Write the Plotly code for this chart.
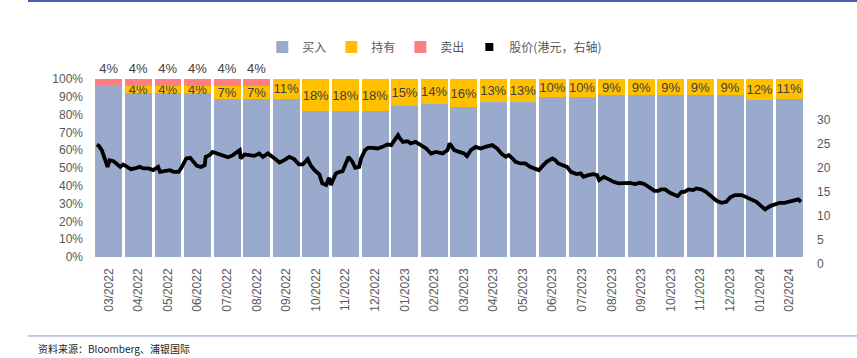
import plotly.graph_objects as go

months = ["03/2022", "04/2022", "05/2022", "06/2022", "07/2022", "08/2022", "09/2022", "10/2022",
          "11/2022", "12/2022", "01/2023", "02/2023", "03/2023", "04/2023", "05/2023", "06/2023",
          "07/2023", "08/2023", "09/2023", "10/2023", "11/2023", "12/2023", "01/2024", "02/2024"]
buy = [96, 92, 92, 92, 89, 89, 89, 82, 82, 82, 85, 86, 84, 87, 87, 90, 90, 91, 91, 91, 91, 91, 88, 89]
hold = [0, 4, 4, 4, 7, 7, 11, 18, 18, 18, 15, 14, 16, 13, 13, 10, 10, 9, 9, 9, 9, 9, 12, 11]
sell = [4, 4, 4, 4, 4, 4, 0, 0, 0, 0, 0, 0, 0, 0, 0, 0, 0, 0, 0, 0, 0, 0, 0, 0]

price_dates = [
    "2022-03-04", "2022-03-06", "2022-03-09", "2022-03-12", "2022-03-15", "2022-03-17", "2022-03-21",
    "2022-03-24", "2022-03-28", "2022-03-31", "2022-04-04", "2022-04-08", "2022-04-12", "2022-04-17",
    "2022-04-21", "2022-04-26", "2022-05-01", "2022-05-06", "2022-05-08", "2022-05-13", "2022-05-18",
    "2022-05-22", "2022-05-27", "2022-05-30", "2022-06-04", "2022-06-08", "2022-06-11", "2022-06-15",
    "2022-06-19", "2022-06-23", "2022-06-24", "2022-06-28", "2022-07-01", "2022-07-06", "2022-07-11",
    "2022-07-17", "2022-07-22", "2022-07-27", "2022-07-29", "2022-07-30", "2022-08-03", "2022-08-08",
    "2022-08-13", "2022-08-18", "2022-08-22", "2022-08-27", "2022-08-30", "2022-09-03", "2022-09-08",
    "2022-09-13", "2022-09-18", "2022-09-23", "2022-09-28", "2022-10-02", "2022-10-07", "2022-10-10",
    "2022-10-14", "2022-10-19", "2022-10-22", "2022-10-26", "2022-10-29", "2022-10-31", "2022-11-02",
    "2022-11-05", "2022-11-09", "2022-11-12", "2022-11-16", "2022-11-18", "2022-11-22", "2022-11-25",
    "2022-11-29", "2022-12-01", "2022-12-05", "2022-12-08", "2022-12-13", "2022-12-18", "2022-12-23",
    "2022-12-28", "2023-01-01", "2023-01-04", "2023-01-08", "2023-01-10", "2023-01-13", "2023-01-18",
    "2023-01-21", "2023-01-26", "2023-02-01", "2023-02-06", "2023-02-11", "2023-02-16", "2023-02-23",
    "2023-02-28", "2023-03-02", "2023-03-07", "2023-03-12", "2023-03-17", "2023-03-20", "2023-03-24",
    "2023-03-29", "2023-04-03", "2023-04-08", "2023-04-15", "2023-04-20", "2023-04-25", "2023-04-29",
    "2023-05-02", "2023-05-06", "2023-05-09", "2023-05-14", "2023-05-19", "2023-05-24", "2023-05-30",
    "2023-06-02", "2023-06-05", "2023-06-10", "2023-06-16", "2023-06-19", "2023-06-22", "2023-06-28",
    "2023-07-01", "2023-07-05", "2023-07-11", "2023-07-15", "2023-07-18", "2023-07-23", "2023-07-28",
    "2023-08-01", "2023-08-03", "2023-08-08", "2023-08-13", "2023-08-18", "2023-08-23", "2023-08-30",
    "2023-09-04", "2023-09-09", "2023-09-14", "2023-09-19", "2023-09-24", "2023-09-29", "2023-10-03",
    "2023-10-06", "2023-10-10", "2023-10-15", "2023-10-20", "2023-10-23", "2023-10-27", "2023-10-30",
    "2023-11-03", "2023-11-08", "2023-11-11", "2023-11-16", "2023-11-21", "2023-11-27", "2023-12-02",
    "2023-12-07", "2023-12-12", "2023-12-16", "2023-12-21", "2023-12-28", "2024-01-02", "2024-01-07",
    "2024-01-12", "2024-01-17", "2024-01-21", "2024-01-26", "2024-01-31", "2024-02-05", "2024-02-10",
    "2024-02-15", "2024-02-20", "2024-02-24", "2024-02-27"]
price = [
    24.78, 24.49, 23.60, 21.88, 20.14, 21.53, 21.33, 20.85, 20.14, 20.64, 20.14, 19.67, 19.81, 20.14,
    19.81, 19.81, 19.46, 20.14, 19.11, 19.25, 19.46, 19.11, 19.11, 19.94, 21.88, 22.01, 21.18, 20.35,
    20.14, 20.50, 22.22, 22.57, 23.25, 22.92, 22.42, 22.15, 22.57, 23.25, 23.60, 21.88, 22.71, 22.57,
    22.42, 22.92, 22.22, 22.92, 22.57, 21.88, 21.06, 21.53, 22.22, 21.74, 20.64, 20.64, 21.74, 20.50,
    19.46, 18.57, 16.71, 16.36, 17.87, 16.36, 17.39, 18.78, 19.11, 19.25, 21.18, 22.22, 21.18, 19.94,
    20.14, 21.88, 23.60, 24.08, 24.08, 23.95, 24.29, 24.78, 24.64, 25.67, 26.71, 26.02, 25.32, 25.47,
    24.99, 25.32, 24.64, 23.95, 22.92, 23.25, 22.92, 23.60, 24.99, 23.60, 23.25, 22.92, 22.36, 23.60,
    24.29, 23.95, 24.29, 24.64, 23.95, 22.77, 22.22, 22.57, 21.88, 21.18, 20.85, 20.85, 20.14, 19.61,
    19.46, 20.14, 21.18, 21.88, 21.53, 20.85, 20.50, 20.14, 19.11, 18.63, 18.78, 18.07, 18.43, 18.63,
    18.43, 17.39, 18.07, 17.54, 17.04, 16.71, 16.71, 16.83, 16.56, 16.83, 16.56, 15.88, 15.18, 15.18,
    15.47, 15.47, 14.76, 14.29, 14.08, 14.97, 14.97, 15.47, 15.32, 15.67, 15.47, 14.97, 13.93, 13.11,
    12.69, 12.90, 13.81, 14.29, 14.29, 13.81, 13.40, 12.90, 12.01, 11.33, 12.01, 12.42, 12.69, 12.69,
    12.90, 13.25, 13.40, 12.90]

pct_ticks = [0, 10, 20, 30, 40, 50, 60, 70, 80, 90, 100]
pct_labels = ["0%", "10%", "20%", "30%", "40%", "50%", "60%", "70%", "80%", "90%", "100%"]
price_ticks = [0, 5, 10, 15, 20, 25, 30]

BLUE = "#9AAACC"
GOLD = "#FFC000"
PINK = "#FF7F80"
LBL = "#404040"
TICK = "#595959"
SANS = "Liberation Sans, Noto Sans CJK SC"
CJK = "Noto Sans CJK SC"

def lbl(vals):
    return [f"{v}%" if v else "" for v in vals]

fig = go.Figure()
fig.add_trace(go.Bar(x=months, y=buy, name="买入", marker=dict(color=BLUE, line=dict(width=0)),
                     hoverinfo="skip"))
fig.add_trace(go.Bar(x=months, y=hold, name="持有", marker=dict(color=GOLD, line=dict(width=0)),
                     text=lbl(hold), textposition="inside", insidetextanchor="middle", textangle=0,
                     insidetextfont=dict(family=SANS, size=13, color=LBL), hoverinfo="skip"))
fig.add_trace(go.Bar(x=months, y=sell, name="卖出", marker=dict(color=PINK, line=dict(width=0)),
                     text=lbl(sell), textposition="outside", textangle=0, cliponaxis=False,
                     outsidetextfont=dict(family=SANS, size=13, color=LBL),
                     insidetextfont=dict(family=SANS, size=13, color=LBL), hoverinfo="skip"))
fig.add_trace(go.Scatter(x=price_dates, y=price, xaxis="x2", yaxis="y2", mode="lines",
                         line=dict(color="black", width=3.8), showlegend=False, hoverinfo="skip"))
fig.add_trace(go.Scatter(x=[None], y=[None], xaxis="x2", yaxis="y2", mode="markers",
                         marker=dict(symbol="square", color="black", size=8),
                         name="股价(港元，右轴)"))

fig.update_layout(
    width=857, height=358, autosize=False,
    margin=dict(l=94, r=53, t=79, b=94, autoexpand=False),
    paper_bgcolor="white", plot_bgcolor="rgba(0,0,0,0)",
    barmode="stack", bargap=0.09,
    uniformtext=dict(minsize=13, mode="show"),
    font=dict(family=SANS, size=12, color=TICK),
    showlegend=True,
    legend=dict(orientation="h", x=0.48, xanchor="center", y=1.173, yanchor="middle",
                font=dict(family=CJK, size=12, color=TICK), itemwidth=30,
                traceorder="normal", bgcolor="rgba(0,0,0,0)"),
    xaxis=dict(type="category", anchor="y", tickangle=-90, showgrid=False, zeroline=False,
               showline=False, ticks="", ticklabelstandoff=8, automargin=False,
               tickfont=dict(family=SANS, size=12, color=TICK)),
    yaxis=dict(domain=[7 / 185, 1], range=[0, 100], tickvals=pct_ticks, ticktext=pct_labels,
               showgrid=False, zeroline=False, showline=False, ticks="", ticklabelstandoff=10,
               automargin=False, tickfont=dict(family=SANS, size=12, color=TICK)),
    xaxis2=dict(overlaying="x", anchor="y2", visible=False, type="date",
                range=["2022-03-01", "2024-03-01"]),
    yaxis2=dict(domain=[0, 1], anchor="x2", side="right", range=[0, 38.36], tickvals=price_ticks,
                showgrid=False, zeroline=False, showline=False, ticks="", ticklabelstandoff=12,
                automargin=False, tickfont=dict(family=SANS, size=12, color=TICK)),
    shapes=[
        dict(type="line", xref="paper", yref="paper", x0=-0.093, x1=1.075, y0=1.421, y1=1.421,
             line=dict(color="#4A5FA8", width=2)),
        dict(type="line", xref="paper", yref="paper", x0=-0.093, x1=1.075, y0=-0.389, y1=-0.389,
             line=dict(color="#8E95CC", width=1)),
    ],
    annotations=[
        dict(text="资料来源：Bloomberg、浦银国际", xref="paper", yref="paper", x=-0.081, y=-0.459,
             xanchor="left", yanchor="middle", showarrow=False,
             font=dict(family=CJK, size=10, color="#222222")),
    ],
)

fig.write_html("out.html", config={"displayModeBar": False},
               post_script="document.body.style.margin='0px';document.body.style.overflow='hidden';")
